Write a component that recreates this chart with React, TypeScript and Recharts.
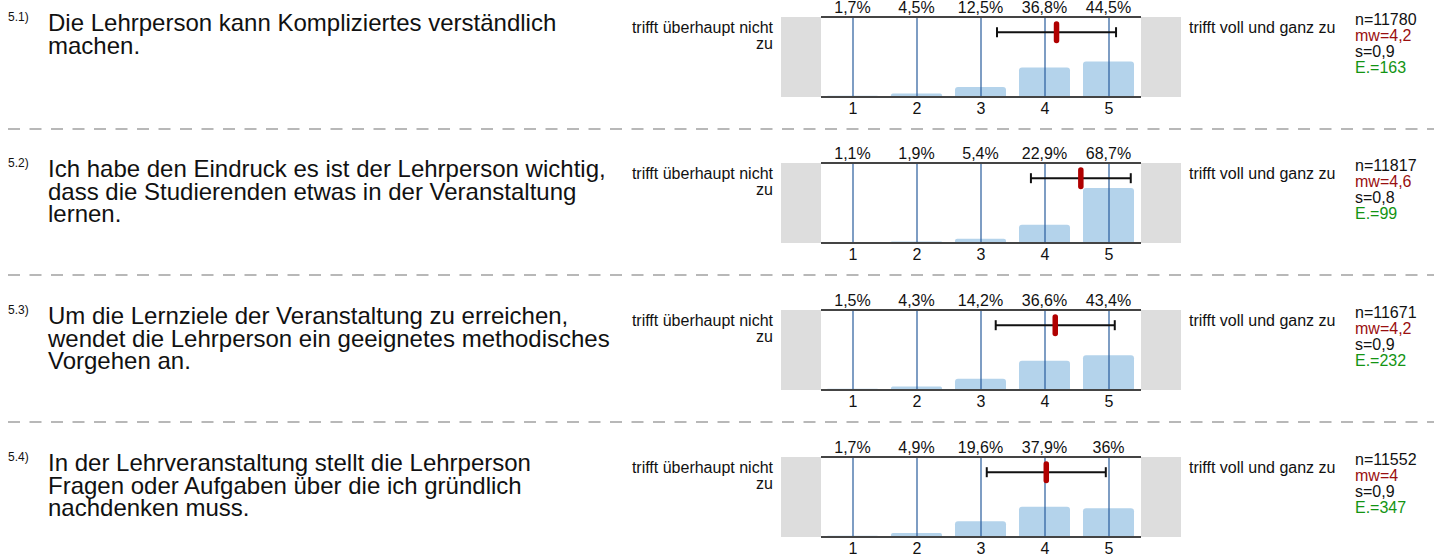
import React from 'react';
import {
  ComposedChart,
  Bar,
  Scatter,
  ErrorBar,
  XAxis,
  YAxis,
  ReferenceArea,
  ReferenceLine,
  LabelList,
} from 'recharts';

// ---------- data ----------
const categories = [1, 2, 3, 4, 5];

const pct51 = [1.7, 4.5, 12.5, 36.8, 44.5];
const pct52 = [1.1, 1.9, 5.4, 22.9, 68.7];
const pct53 = [1.5, 4.3, 14.2, 36.6, 43.4];
const pct54 = [1.7, 4.9, 19.6, 37.9, 36];
const pctSeries = [pct51, pct52, pct53, pct54];

const questionIds = ['5.1)', '5.2)', '5.3)', '5.4)'];
const questionLines = [
  ['Die Lehrperson kann Kompliziertes verständlich', 'machen.'],
  [
    'Ich habe den Eindruck es ist der Lehrperson wichtig,',
    'dass die Studierenden etwas in der Veranstaltung',
    'lernen.',
  ],
  [
    'Um die Lernziele der Veranstaltung zu erreichen,',
    'wendet die Lehrperson ein geeignetes methodisches',
    'Vorgehen an.',
  ],
  [
    'In der Lehrveranstaltung stellt die Lehrperson',
    'Fragen oder Aufgaben über die ich gründlich',
    'nachdenken muss.',
  ],
];

const nValues = [11780, 11817, 11671, 11552];
const mwLabels = ['4,2', '4,6', '4,2', '4'];
const sLabels = ['0,9', '0,8', '0,9', '0,9'];
const eValues = [163, 99, 232, 347];
// mean / standard deviation as drawn (marker and whisker positions)
const means = [4.18, 4.56, 4.16, 4.02];
const sds = [0.93, 0.78, 0.93, 0.93];

const leftLabelLines = ['trifft überhaupt nicht', 'zu'];
const rightLabel = 'trifft voll und ganz zu';

// ---------- layout ----------
const rowTops = [17, 163, 310, 457];
const FONT = '"Liberation Sans", Arial, Helvetica, sans-serif';
const X_DOMAIN: [number, number] = [-0.125, 6.125];
const PLOT_TOP = 30;

const fmtPct = (v: number) => String(v).replace('.', ',') + '%';

function Row({ idx }: { idx: number }) {
  const top = rowTops[idx];
  const pcts = pctSeries[idx];
  const data = categories.map((c, i) => ({ x: c, pct: pcts[i], label: fmtPct(pcts[i]) }));
  const meanData = [{ x: means[idx], pct: 81, err: sds[idx] }];

  return (
    <>
      <div
        style={{
          position: 'absolute',
          left: 8,
          top: top - 6,
          fontSize: 12,
          lineHeight: '12px',
          color: '#111',
        }}
      >
        {questionIds[idx]}
      </div>
      <div
        style={{
          position: 'absolute',
          left: 48,
          top: top - 5,
          fontSize: 24,
          lineHeight: '22.5px',
          color: '#111',
          whiteSpace: 'nowrap',
        }}
      >
        {questionLines[idx].map((l, i) => (
          <div key={i}>{l}</div>
        ))}
      </div>
      <div
        style={{
          position: 'absolute',
          left: 573,
          width: 200,
          top: top + 3,
          fontSize: 16,
          lineHeight: '16px',
          textAlign: 'right',
          color: '#111',
        }}
      >
        {leftLabelLines.map((l, i) => (
          <div key={i}>{l}</div>
        ))}
      </div>
      <div
        style={{
          position: 'absolute',
          left: 1189,
          top: top + 3,
          fontSize: 16,
          lineHeight: '16px',
          color: '#111',
          whiteSpace: 'nowrap',
        }}
      >
        {rightLabel}
      </div>
      <div
        style={{
          position: 'absolute',
          left: 1355,
          top: top - 5,
          fontSize: 16,
          lineHeight: '16px',
          whiteSpace: 'nowrap',
        }}
      >
        <div style={{ color: '#111' }}>n={nValues[idx]}</div>
        <div style={{ color: '#9a0f0f' }}>mw={mwLabels[idx]}</div>
        <div style={{ color: '#111' }}>s={sLabels[idx]}</div>
        <div style={{ color: '#139413' }}>E.={eValues[idx]}</div>
      </div>
      <div style={{ position: 'absolute', left: 741, top: top - PLOT_TOP }}>
        <ComposedChart
          width={480}
          height={140}
          data={data}
          margin={{ top: PLOT_TOP, right: 40, bottom: 0, left: 40 }}
        >
          <XAxis
            dataKey="x"
            type="number"
            domain={X_DOMAIN}
            allowDataOverflow
            ticks={categories}
            interval={0}
            axisLine={false}
            tickLine={false}
            tickSize={4}
            height={30}
            tick={{ fill: '#111', fontSize: 16, fontFamily: FONT }}
          />
          <XAxis
            xAxisId="mean"
            dataKey="x"
            type="number"
            domain={X_DOMAIN}
            allowDataOverflow
            hide
          />
          <YAxis type="number" domain={[0, 100]} allowDataOverflow hide />
          <ReferenceArea
            x1={X_DOMAIN[0]}
            x2={0.5}
            y1={0}
            y2={100}
            fill="#dddddd"
            fillOpacity={1}
            stroke="none"
          />
          <ReferenceArea
            x1={5.5}
            x2={X_DOMAIN[1]}
            y1={0}
            y2={100}
            fill="#dddddd"
            fillOpacity={1}
            stroke="none"
          />
          <Bar
            dataKey="pct"
            fill="#b4d3eb"
            barSize={51}
            radius={[3, 3, 0, 0]}
            isAnimationActive={false}
          >
            <LabelList
              dataKey="label"
              content={(p: any) => (
                <text
                  x={p.x + p.width / 2}
                  y={PLOT_TOP - 4}
                  textAnchor="middle"
                  fill="#111"
                  fontSize={16}
                  fontFamily={FONT}
                >
                  {p.value}
                </text>
              )}
            />
          </Bar>
          {categories.map((c) => (
            <ReferenceLine key={c} x={c} stroke="#285c9c" strokeWidth={1.2} />
          ))}
          <ReferenceLine
            segment={[
              { x: 0.5, y: 100 },
              { x: 5.5, y: 100 },
            ]}
            stroke="#444"
            strokeWidth={2}
          />
          <ReferenceLine
            segment={[
              { x: 0.5, y: 0 },
              { x: 5.5, y: 0 },
            ]}
            stroke="#444"
            strokeWidth={2}
          />
          <Scatter
            xAxisId="mean"
            data={meanData}
            dataKey="pct"
            isAnimationActive={false}
            shape={(p: any) => (
              <rect
                x={p.cx - 2.75}
                y={p.cy - 11}
                width={5.5}
                height={22}
                rx={2.75}
                fill="#b00000"
              />
            )}
          >
            <ErrorBar
              dataKey="err"
              direction="x"
              width={5}
              stroke="#111"
              strokeWidth={2}
            />
          </Scatter>
        </ComposedChart>
      </div>
    </>
  );
}

export default function App() {
  return (
    <div
      style={{
        position: 'absolute',
        left: 0,
        top: 0,
        width: 1434,
        height: 555,
        background: '#fff',
        fontFamily: FONT,
        overflow: 'hidden',
      }}
    >
      <svg
        width={1434}
        height={555}
        style={{ position: 'absolute', left: 0, top: 0 }}
      >
        {rowTops.slice(0, 3).map((t, i) => (
          <line
            key={i}
            x1={8}
            x2={1434}
            y1={t + 112}
            y2={t + 112}
            stroke="#b8b8b8"
            strokeWidth={2}
            strokeDasharray="12 9.5"
          />
        ))}
      </svg>
      {rowTops.map((_, i) => (
        <Row key={i} idx={i} />
      ))}
    </div>
  );
}
